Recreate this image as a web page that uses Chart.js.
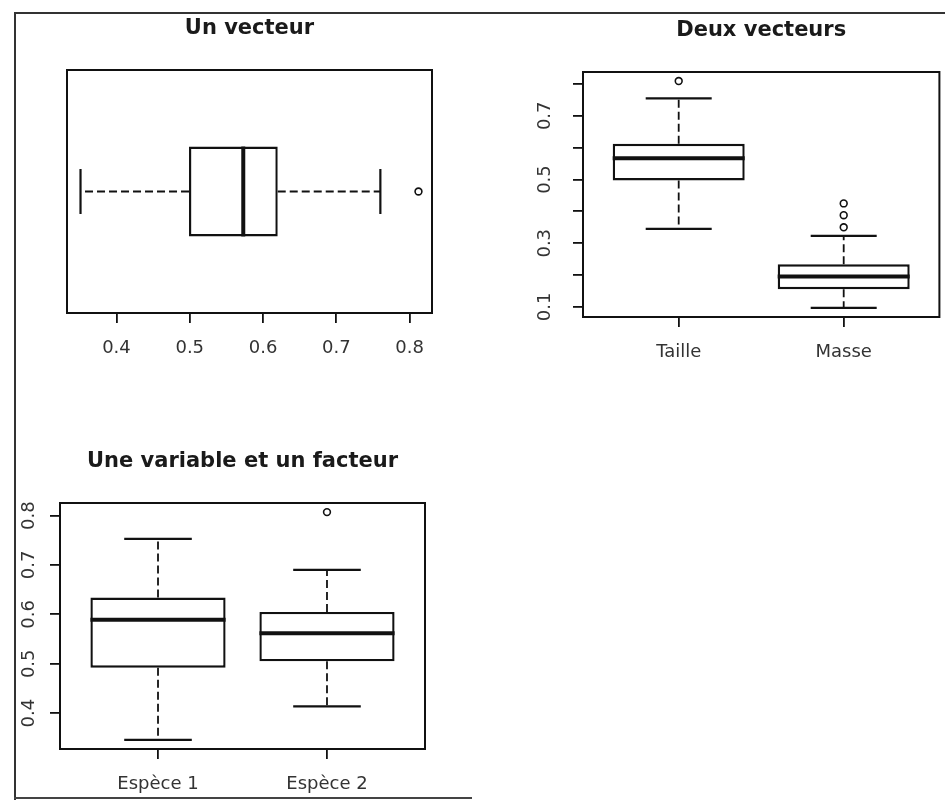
<!DOCTYPE html>
<html lang="fr">
<head>
<meta charset="utf-8">
<title>Boîtes à moustaches</title>
<script src="https://cdn.jsdelivr.net/npm/chart.js@4.4.1/dist/chart.umd.min.js"></script>
<style>
  html, body { margin: 0; padding: 0; background: #fff; }
  body { width: 945px; height: 801px; position: relative; overflow: hidden; }
  canvas { position: absolute; }
  #cadre { position: absolute; left: 14px; top: 12px; width: 940px; height: 786px; border-top: 2px solid #333; border-left: 2px solid #333; }
  #bas { position: absolute; left: 14px; top: 797px; width: 458px; height: 0; border-top: 2px solid #444; }
</style>
</head>
<body>
<div id="cadre"></div>
<div id="bas"></div>
<canvas id="unVecteur" width="460" height="370" style="left:0;top:0"></canvas>
<canvas id="deuxVecteurs" width="475" height="370" style="left:470px;top:0"></canvas>
<canvas id="facteur" width="460" height="371" style="left:0;top:430px"></canvas>
<script>
// Un vecteur (boîte horizontale)
const unPos = [1];
const unMin = [0.351];
const unQ1 = [0.499];
const unMed = [0.573];
const unQ3 = [0.620];
const unMax = [0.760];
const unOut = [[0.812]];
const unTicks = [0.4, 0.5, 0.6, 0.7, 0.8];
const unTickLabels = ['0.4', '0.5', '0.6', '0.7', '0.8'];

// Deux vecteurs
const deuxCategories = ['Taille', 'Masse'];
const deuxPos = [1, 2];
const deuxMin = [0.345, 0.097];
const deuxQ1 = [0.497, 0.156];
const deuxMed = [0.567, 0.196];
const deuxQ3 = [0.612, 0.234];
const deuxMax = [0.755, 0.323];
const deuxOut = [[0.809], [0.350, 0.388, 0.425]];
const deuxTicks = [0.1, 0.2, 0.3, 0.4, 0.5, 0.6, 0.7, 0.8];
const deuxTickLabels = ['0.1', '', '0.3', '', '0.5', '', '0.7', ''];

// Une variable et un facteur
const facteurCategories = ['Espèce 1', 'Espèce 2'];
const facteurPos = [1, 2];
const facteurMin = [0.346, 0.414];
const facteurQ1 = [0.492, 0.505];
const facteurMed = [0.589, 0.562];
const facteurQ3 = [0.634, 0.605];
const facteurMax = [0.753, 0.690];
const facteurOut = [[], [0.807]];
const facteurTicks = [0.4, 0.5, 0.6, 0.7, 0.8];
const facteurTickLabels = ['0.4', '0.5', '0.6', '0.7', '0.8'];

const NOIR = '#111';
const POLICE = '"DejaVu Sans", "Liberation Sans", sans-serif';

// comme R : on élargit l'intervalle de 4 %
function etendue(lo, hi) {
  const d = (hi - lo) * 0.04;
  return [lo - d, hi + d];
}

const boiteR = {
  id: 'boiteR',
  beforeDatasetsDraw(chart, args, o) {
    const ctx = chart.ctx;
    const horiz = chart.options.indexAxis === 'y';
    const iS = horiz ? chart.scales.y : chart.scales.x;
    const vS = horiz ? chart.scales.x : chart.scales.y;
    const bars = chart.getDatasetMeta(0).data;
    const ligne = (c1, v1, c2, v2) => {
      ctx.beginPath();
      if (horiz) { ctx.moveTo(v1, c1); ctx.lineTo(v2, c2); }
      else { ctx.moveTo(c1, v1); ctx.lineTo(c2, v2); }
      ctx.stroke();
    };
    ctx.save();
    ctx.strokeStyle = NOIR;
    o.pos.forEach((p, k) => {
      const c = iS.getPixelForValue(p);
      const half = (horiz ? bars[k].height : bars[k].width) / 2;
      ctx.lineWidth = 1.8;
      ctx.setLineDash([8, 4]);
      ligne(c, vS.getPixelForValue(o.q1[k]), c, vS.getPixelForValue(o.min[k]));
      ligne(c, vS.getPixelForValue(o.q3[k]), c, vS.getPixelForValue(o.max[k]));
      ctx.setLineDash([]);
      ctx.lineWidth = 2.2;
      ligne(c - half / 2, vS.getPixelForValue(o.min[k]), c + half / 2, vS.getPixelForValue(o.min[k]));
      ligne(c - half / 2, vS.getPixelForValue(o.max[k]), c + half / 2, vS.getPixelForValue(o.max[k]));
    });
    ctx.restore();
  },
  afterDatasetsDraw(chart, args, o) {
    const ctx = chart.ctx;
    const horiz = chart.options.indexAxis === 'y';
    const iS = horiz ? chart.scales.y : chart.scales.x;
    const vS = horiz ? chart.scales.x : chart.scales.y;
    const bars = chart.getDatasetMeta(0).data;
    const a = chart.chartArea;
    ctx.save();
    ctx.strokeStyle = NOIR;
    // médianes
    ctx.lineWidth = 4;
    o.pos.forEach((p, k) => {
      const c = iS.getPixelForValue(p);
      const half = (horiz ? bars[k].height : bars[k].width) / 2;
      const m = vS.getPixelForValue(o.med[k]);
      ctx.beginPath();
      if (horiz) { ctx.moveTo(m, c - half); ctx.lineTo(m, c + half); }
      else { ctx.moveTo(c - half, m); ctx.lineTo(c + half, m); }
      ctx.stroke();
    });
    // cadre du graphique
    ctx.lineWidth = 2;
    ctx.strokeRect(a.left, a.top, a.right - a.left, a.bottom - a.top);

    // étiquettes des axes
    ctx.fillStyle = '#333';
    ctx.font = '18px ' + POLICE;
    ctx.textAlign = 'center';
    ctx.textBaseline = 'middle';
    o.xTicks.forEach((v, i) => {
      ctx.fillText(o.xLabels[i], chart.scales.x.getPixelForValue(v), a.bottom + 35);
    });
    if (o.yTicks) {
      o.yTicks.forEach((v, i) => {
        if (!o.yLabels[i]) return;
        ctx.save();
        ctx.translate(a.left - o.yGap, chart.scales.y.getPixelForValue(v));
        ctx.rotate(-Math.PI / 2);
        ctx.fillText(o.yLabels[i], 0, 0);
        ctx.restore();
      });
    }
    // titre
    ctx.fillStyle = '#1a1a1a';
    ctx.font = 'bold 21px ' + POLICE;
    ctx.fillText(o.titre, (a.left + a.right) / 2, a.top - 41);
    ctx.restore();
  }
};

function axe(ticks, range, show, taille) {
  return {
    type: 'linear',
    min: range[0],
    max: range[1],
    offset: false,
    display: show,
    afterBuildTicks: s => { s.ticks = ticks.map(v => ({ value: v })); },
    afterFit: s => { if (s.isHorizontal()) s.height = taille; else s.width = taille; },
    ticks: { display: false },
    border: { display: false },
    grid: { offset: false, drawOnChartArea: false, drawTicks: true, tickLength: 10, color: NOIR, lineWidth: 1.8 }
  };
}

function creerBoites(id, o) {
  const horiz = !!o.horizontal;
  const iAxe = horiz ? 'y' : 'x';
  const vAxe = horiz ? 'x' : 'y';
  const boites = o.pos.map((p, k) => ({ [iAxe]: p, [vAxe]: [o.q1[k], o.q3[k]] }));
  const points = o.out.flatMap((vals, k) => vals.map(v => ({ [iAxe]: o.pos[k], [vAxe]: v })));
  const tout = o.out.flat();
  const iRange = etendue(0.5, o.pos.length + 0.5);
  const vRange = etendue(Math.min(...o.min, ...tout), Math.max(...o.max, ...tout));

  const scales = {};
  scales[iAxe] = axe(o.pos, iRange, !horiz, o.iTaille);
  scales[vAxe] = axe(o.ticks, vRange, true, o.vTaille);

  new Chart(document.getElementById(id), {
    type: 'bar',
    data: {
      datasets: [
        {
          type: 'bar',
          data: boites,
          backgroundColor: '#fff',
          borderColor: NOIR,
          borderWidth: 2.4,
          borderSkipped: false,
          barPercentage: o.largeur,
          categoryPercentage: 1
        },
        {
          type: 'line',
          data: points,
          showLine: false,
          pointRadius: 3.4,
          pointBorderWidth: 1.6,
          pointBackgroundColor: '#fff',
          pointBorderColor: NOIR
        }
      ]
    },
    options: {
      indexAxis: iAxe,
      responsive: false,
      animation: false,
      layout: { padding: o.padding },
      scales: scales,
      plugins: {
        legend: { display: false },
        tooltip: { enabled: false },
        boiteR: {
          titre: o.titre,
          pos: o.pos, min: o.min, q1: o.q1, med: o.med, q3: o.q3, max: o.max,
          xTicks: horiz ? o.ticks : o.pos,
          xLabels: horiz ? o.tickLabels : o.categories,
          yTicks: horiz ? null : o.ticks,
          yLabels: horiz ? null : o.tickLabels,
          yGap: o.yGap
        }
      }
    },
    plugins: [boiteR]
  });
}

creerBoites('unVecteur', {
  titre: 'Un vecteur',
  horizontal: true,
  pos: unPos, min: unMin, q1: unQ1, med: unMed, q3: unQ3, max: unMax, out: unOut,
  ticks: unTicks, tickLabels: unTickLabels,
  largeur: 0.37,
  iTaille: 0, vTaille: 50,
  padding: { left: 67, top: 70, right: 28, bottom: 7 }
});

creerBoites('deuxVecteurs', {
  titre: 'Deux vecteurs',
  categories: deuxCategories,
  pos: deuxPos, min: deuxMin, q1: deuxQ1, med: deuxMed, q3: deuxQ3, max: deuxMax, out: deuxOut,
  ticks: deuxTicks, tickLabels: deuxTickLabels,
  largeur: 0.8,
  iTaille: 50, vTaille: 50, yGap: 38,
  padding: { left: 63, top: 72, right: 0, bottom: 3 }
});

creerBoites('facteur', {
  titre: 'Une variable et un facteur',
  categories: facteurCategories,
  pos: facteurPos, min: facteurMin, q1: facteurQ1, med: facteurMed, q3: facteurQ3, max: facteurMax, out: facteurOut,
  ticks: facteurTicks, tickLabels: facteurTickLabels,
  largeur: 0.8,
  iTaille: 45, vTaille: 42, yGap: 31,
  padding: { left: 18, top: 73, right: 35, bottom: 7 }
});
</script>
</body>
</html>
